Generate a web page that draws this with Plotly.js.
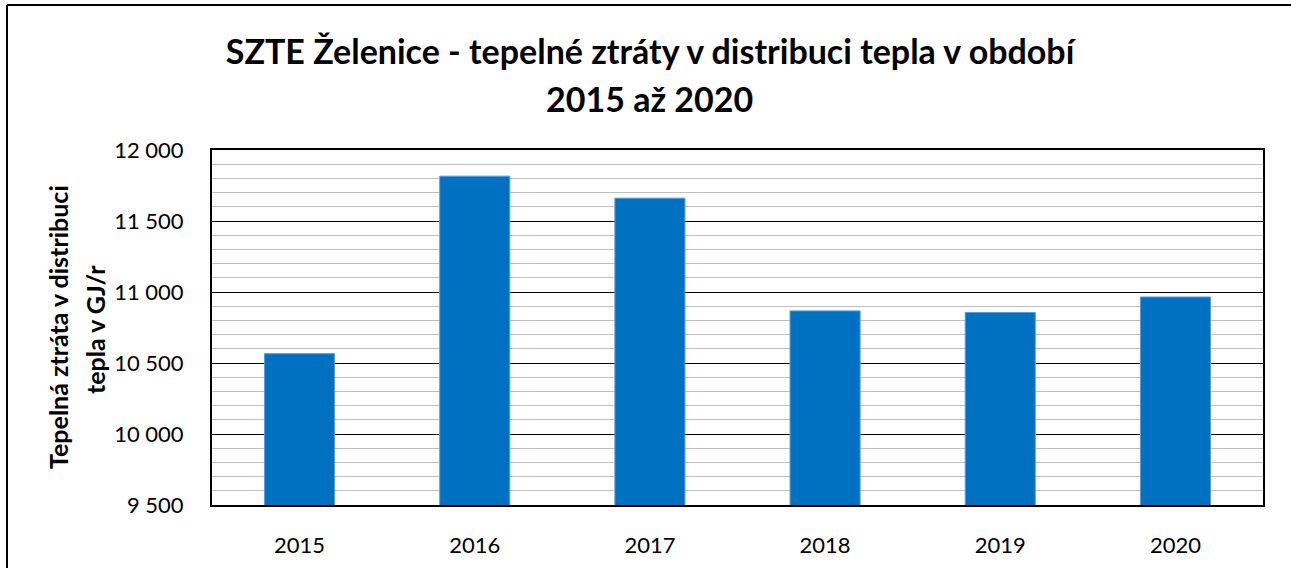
<!DOCTYPE html>
<html>
<head>
<meta charset="utf-8">
<script src="https://cdn.plot.ly/plotly-3.0.1.min.js"></script>
<style>html,body{margin:0;padding:0;background:#fff;}#chart{width:1291px;height:568px;}</style>
</head>
<body>
<div id="chart"></div>
<script>
var years = ['2015', '2016', '2017', '2018', '2019', '2020'];
var losses = [10566, 11816, 11661, 10867, 10856, 10965];
var yTickVals = [9500, 10000, 10500, 11000, 11500, 12000];
var yTickLabels = ['9 500', '10 000', '10 500', '11 000', '11 500', '12 000'];
var titleLine1 = 'SZTE Želenice - tepelné ztráty v distribuci tepla v období';
var titleLine2 = '2015 až 2020';
var yTitleLine1 = 'Tepelná ztráta v distribuci';
var yTitleLine2 = 'tepla v GJ/r';

var FONT = 'Lato, "Open Sans", sans-serif';

var trace = {
  type: 'bar',
  x: years,
  y: losses,
  width: 0.4,
  marker: {color: '#0070C0', line: {color: '#5B9BD5', width: 1}},
  hoverinfo: 'x+y'
};

var layout = {
  width: 1291,
  height: 568,
  margin: {l: 212, r: 28, t: 150, b: 63, pad: 0},
  paper_bgcolor: '#ffffff',
  plot_bgcolor: '#ffffff',
  showlegend: false,
  font: {family: FONT, color: '#000000'},
  title: {
    text: '<b>' + titleLine1 + '</b>',
    font: {family: FONT, size: 34, color: '#000000'},
    x: 0.5035, xanchor: 'center', xref: 'container',
    y: 0.908, yref: 'container', yanchor: 'middle'
  },
  xaxis: {
    type: 'category',
    showline: true, linecolor: '#000000', linewidth: 2, mirror: true,
    showgrid: false, zeroline: false,
    ticks: '', ticklabelstandoff: 20,
    tickfont: {family: FONT, size: 22, color: '#000000'}
  },
  yaxis: {
    range: [9500, 12000],
    tickvals: yTickVals, ticktext: yTickLabels,
    showline: true, linecolor: '#000000', linewidth: 2, mirror: true,
    showgrid: true, gridcolor: '#000000', gridwidth: 1,
    zeroline: false,
    ticks: '', ticklabelstandoff: 22,
    tickfont: {family: FONT, size: 22, color: '#000000'},
    minor: {dtick: 100, showgrid: true, gridcolor: '#BFBFBF', gridwidth: 1, ticks: ''}
  },
  annotations: [
    {text: '<b>' + titleLine2 + '</b>', xref: 'paper', yref: 'paper',
     x: 0.42, y: 1, xanchor: 'center', yanchor: 'middle', showarrow: false,
     font: {family: FONT, size: 34, color: '#000000'}},
    {text: '<b>' + yTitleLine1 + '</b>', xref: 'paper', yref: 'paper', textangle: -90,
     x: 0, y: 0.5, xanchor: 'center', yanchor: 'middle', showarrow: false,
     font: {family: FONT, size: 25, color: '#000000'}},
    {text: '<b>' + yTitleLine2 + '</b>', xref: 'paper', yref: 'paper', textangle: -90,
     x: 0, y: 0.5, xanchor: 'center', yanchor: 'middle', showarrow: false,
     font: {family: FONT, size: 25, color: '#000000'}}
  ]
};

// Pixel positions converted to paper coordinates
var plotW = layout.width - layout.margin.l - layout.margin.r;
var plotH = layout.height - layout.margin.t - layout.margin.b;
function px2paperX(px) { return (px - layout.margin.l) / plotW; }
function px2paperY(py) { return (layout.height - layout.margin.b - py) / plotH; }

layout.annotations[0].x = px2paperX(649);
layout.annotations[0].y = px2paperY(98);
layout.annotations[1].x = px2paperX(58);
layout.annotations[1].y = px2paperY(327);
layout.annotations[2].x = px2paperX(95);
layout.annotations[2].y = px2paperY(330);

// Outer chart-area frame (left and top edges visible in the reference)
layout.shapes = [
  {type: 'line', xref: 'paper', yref: 'paper',
   x0: px2paperX(7), x1: px2paperX(7), y0: px2paperY(5), y1: px2paperY(575),
   line: {color: '#000000', width: 2}},
  {type: 'line', xref: 'paper', yref: 'paper',
   x0: px2paperX(7), x1: px2paperX(1300), y0: px2paperY(5), y1: px2paperY(5),
   line: {color: '#000000', width: 2}}
];

Plotly.newPlot('chart', [trace], layout, {displayModeBar: false, staticPlot: true});
</script>
</body>
</html>
